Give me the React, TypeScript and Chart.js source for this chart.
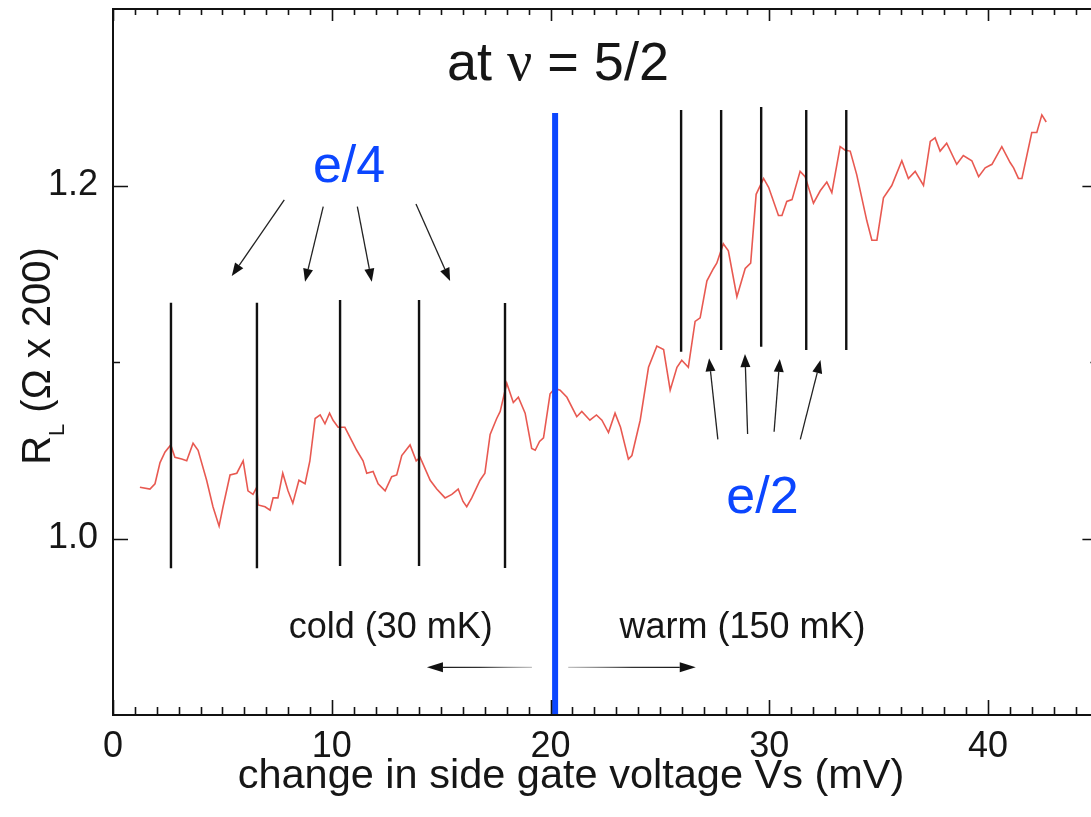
import React, { useEffect, useRef } from 'react';
import { Chart, registerables } from 'chart.js';

Chart.register(...registerables);

// ---- data ----
const voltage = [
  1.23, 1.69, 1.92, 2.15, 2.38, 2.64, 2.83, 3.14, 3.37, 3.66, 3.89, 4.28, 4.57, 4.85, 5.03, 5.35, 5.66, 5.95,
  6.17, 6.4, 6.57, 6.63, 6.95, 7.18, 7.32, 7.54, 7.76, 8.0, 8.22, 8.5, 8.78, 9.0, 9.24, 9.47, 9.69, 9.9, 10.06,
  10.29, 10.6, 11.14, 11.43, 11.6, 11.89, 12.12, 12.44, 12.74, 12.97, 13.2, 13.58, 13.86, 14.04, 14.5, 14.8,
  15.18, 15.49, 15.78, 16.0, 16.17, 16.4, 16.78, 17.0, 17.24, 17.54, 17.7, 18.0, 18.3, 18.53, 18.84, 19.14,
  19.3, 19.5, 19.68, 19.98, 20.2, 20.44, 20.75, 21.2, 21.43, 21.8, 22.1, 22.35, 22.65, 22.95, 23.2, 23.56,
  23.72, 24.1, 24.48, 24.86, 25.17, 25.47, 25.78, 26.0, 26.3, 26.61, 26.84, 27.15, 27.45, 27.6, 27.9, 28.13,
  28.52, 28.9, 29.15, 29.4, 29.74, 29.97, 30.42, 30.58, 30.8, 31.04, 31.41, 31.64, 32.02, 32.33, 32.63, 32.86,
  33.24, 33.47, 33.7, 34.0, 34.46, 34.69, 34.92, 35.22, 35.6, 36.06, 36.36, 36.67, 37.05, 37.36, 37.58, 37.81,
  38.11, 38.57, 38.87, 39.26, 39.57, 39.87, 40.18, 40.63, 41.01, 41.17, 41.39, 41.55, 42.0, 42.23, 42.46, 42.66,
];
const resistance = [
  1.029, 1.028, 1.031, 1.043, 1.049, 1.053, 1.046, 1.045, 1.044, 1.054, 1.05, 1.033, 1.018, 1.007, 1.018, 1.036,
  1.037, 1.044, 1.027, 1.025, 1.029, 1.019, 1.018, 1.016, 1.023, 1.023, 1.037, 1.027, 1.02, 1.033, 1.031, 1.044,
  1.068, 1.07, 1.065, 1.071, 1.067, 1.063, 1.063, 1.05, 1.044, 1.037, 1.038, 1.031, 1.027, 1.035, 1.036, 1.047,
  1.053, 1.044, 1.046, 1.033, 1.028, 1.023, 1.025, 1.028, 1.021, 1.018, 1.023, 1.033, 1.037, 1.059, 1.068, 1.072,
  1.088, 1.077, 1.08, 1.071, 1.051, 1.05, 1.055, 1.057, 1.082, 1.085, 1.084, 1.08, 1.069, 1.072, 1.067, 1.07,
  1.067, 1.06, 1.071, 1.063, 1.045, 1.047, 1.067, 1.097, 1.109, 1.107, 1.084, 1.097, 1.101, 1.097, 1.123, 1.125,
  1.146, 1.153, 1.156, 1.167, 1.163, 1.137, 1.153, 1.156, 1.195, 1.204, 1.199, 1.183, 1.183, 1.191, 1.192, 1.208,
  1.205, 1.19, 1.197, 1.202, 1.196, 1.222, 1.22, 1.2195, 1.206, 1.18, 1.169, 1.169, 1.193, 1.2, 1.214, 1.204,
  1.208, 1.2, 1.225, 1.227, 1.2195, 1.224, 1.212, 1.217, 1.214, 1.205, 1.21, 1.212, 1.222, 1.213, 1.21, 1.204,
  1.204, 1.23, 1.23, 1.24, 1.236,
];

// e/4 marker lines (cold side)
const e4LineX = [2.65, 6.58, 10.38, 13.99, 17.92];
const e4LineTop = [1.1336, 1.1336, 1.1351, 1.1351, 1.1334];
const e4LineBottom = [0.9831, 0.9831, 0.9844, 0.9844, 0.9833];
// e/2 marker lines (warm side)
const e2LineX = [25.97, 27.8, 29.63, 31.69, 33.52];
const e2LineTop = [1.2428, 1.2428, 1.2445, 1.2428, 1.2428];
const e2LineBottom = [1.1058, 1.1068, 1.1087, 1.1068, 1.1068];
// blue divider
const dividerX = 20.21;
const dividerRange = [0.9, 1.2411];

// axis ticks
const xTicks = [0, 10, 20, 30, 40];
const yTicks = [1.0, 1.2];
const yMinorTicks = [1.1];
const xRange = [0, 45];
const yRange = [0.9, 1.3];

// annotation arrows: [tailX, tailY, tipX, tipY]
const e4Arrows = [
  [7.83, 1.1918, 5.43, 1.1487],
  [9.61, 1.188, 8.78, 1.1455],
  [11.17, 1.188, 11.83, 1.1455],
  [13.85, 1.1895, 15.41, 1.1459],
];
const e2Arrows = [
  [27.65, 1.0562, 27.25, 1.1021],
  [29.01, 1.0592, 28.89, 1.1045],
  [30.22, 1.0605, 30.48, 1.1017],
  [31.42, 1.0562, 32.34, 1.1011],
];
const coldArrow = [19.15, 0.927, 14.35, 0.927];
const warmArrow = [20.81, 0.927, 26.64, 0.927];

// annotation labels: [x, y(baseline)]
const e4LabelPos = [10.79, 1.2022];
const e2LabelPos = [29.69, 1.0146];
const coldLabelPos = [12.7, 0.9436];
const warmLabelPos = [28.78, 0.9436];
const titlePos = [20.34, 1.2598];

const SANS = '"Liberation Sans", Arial, Helvetica, sans-serif';
const SERIF = '"Liberation Serif", "Times New Roman", serif';
const BLUE = '#0b46ff';
const TEXT = '#161616';

function drawArrow(ctx: CanvasRenderingContext2D, x1: number, y1: number, x2: number, y2: number, head: number, half: number, stroke: any, fill: string, lw: number) {
  const ang = Math.atan2(y2 - y1, x2 - x1);
  const bx = x2 - head * Math.cos(ang);
  const by = y2 - head * Math.sin(ang);
  ctx.strokeStyle = stroke;
  ctx.lineWidth = lw;
  ctx.beginPath();
  ctx.moveTo(x1, y1);
  ctx.lineTo(bx, by);
  ctx.stroke();
  ctx.fillStyle = fill;
  ctx.beginPath();
  ctx.moveTo(x2, y2);
  ctx.lineTo(bx + half * Math.sin(ang), by - half * Math.cos(ang));
  ctx.lineTo(bx - half * Math.sin(ang), by + half * Math.cos(ang));
  ctx.closePath();
  ctx.fill();
}

const overlay = {
  id: 'overlay',
  afterDraw(chart: any) {
    const { ctx, chartArea: a, scales } = chart;
    const xs = scales.x;
    const ys = scales.y;
    const px = (v: number) => xs.getPixelForValue(v);
    const py = (v: number) => ys.getPixelForValue(v);
    ctx.save();

    // frame
    ctx.strokeStyle = '#111';
    ctx.lineWidth = 2;
    ctx.beginPath();
    ctx.moveTo(a.left, a.bottom);
    ctx.lineTo(a.left, a.top);
    ctx.lineTo(a.right, a.top);
    ctx.lineTo(a.right, a.bottom);
    ctx.closePath();
    ctx.stroke();

    // x ticks (inward, top and bottom)
    ctx.lineWidth = 1.6;
    ctx.beginPath();
    for (let v = xRange[0]; v <= xRange[1]; v += 1) {
      const X = Math.round(px(v)) + 0.5;
      const major = v % 10 === 0;
      ctx.moveTo(X, a.bottom);
      ctx.lineTo(X, a.bottom - (major ? 15 : 8));
      ctx.moveTo(X, a.top);
      ctx.lineTo(X, a.top + (major ? 12 : 6));
    }
    // y ticks (inward, left and right)
    for (const v of yTicks) {
      const Y = Math.round(py(v)) + 0.5;
      ctx.moveTo(a.left, Y);
      ctx.lineTo(a.left + 15, Y);
      ctx.moveTo(a.right, Y);
      ctx.lineTo(a.right - 15, Y);
    }
    for (const v of yMinorTicks) {
      const Y = Math.round(py(v)) + 0.5;
      ctx.moveTo(a.left, Y);
      ctx.lineTo(a.left + 7, Y);
      ctx.moveTo(a.right, Y);
      ctx.lineTo(a.right - 7, Y);
    }
    ctx.stroke();

    // arrows
    for (const [x1, y1, x2, y2] of [...e4Arrows, ...e2Arrows]) {
      drawArrow(ctx, px(x1), py(y1), px(x2), py(y2), 13, 5, '#222', '#111', 1.3);
    }
    for (const arr of [coldArrow, warmArrow]) {
      const [x1, y1, x2, y2] = arr;
      const g = ctx.createLinearGradient(px(x1), 0, px(x2), 0);
      g.addColorStop(0, 'rgba(150,150,150,0.6)');
      g.addColorStop(0.5, '#333');
      g.addColorStop(1, '#111');
      drawArrow(ctx, px(x1), py(y1), px(x2), py(y2), 16, 5, g, '#111', 1.4);
    }

    // labels
    ctx.textBaseline = 'alphabetic';
    ctx.textAlign = 'center';
    ctx.fillStyle = BLUE;
    ctx.font = `52px ${SANS}`;
    ctx.fillText('e/4', px(e4LabelPos[0]), py(e4LabelPos[1]));
    ctx.fillText('e/2', px(e2LabelPos[0]), py(e2LabelPos[1]));

    ctx.fillStyle = TEXT;
    ctx.font = `36px ${SANS}`;
    ctx.fillText('cold (30 mK)', px(coldLabelPos[0]), py(coldLabelPos[1]));
    ctx.fillText('warm (150 mK)', px(warmLabelPos[0]), py(warmLabelPos[1]));

    // title "at ν = 5/2"
    const segs: [string, string][] = [
      ['at ', `54px ${SANS}`],
      ['\u03bd', `56px ${SERIF}`],
      [' = 5/2', `54px ${SANS}`],
    ];
    let total = 0;
    for (const [t, f] of segs) {
      ctx.font = f;
      total += ctx.measureText(t).width;
    }
    ctx.textAlign = 'left';
    let cx = px(titlePos[0]) - total / 2;
    const by = py(titlePos[1]);
    for (const [t, f] of segs) {
      ctx.font = f;
      ctx.fillText(t, cx, by);
      cx += ctx.measureText(t).width;
    }

    // x axis title
    ctx.textAlign = 'center';
    ctx.font = `41.5px ${SANS}`;
    ctx.fillText('change in side gate voltage Vs (mV)', 571, 788);

    // y axis title with subscript
    ctx.save();
    ctx.translate(50, 356);
    ctx.rotate(-Math.PI / 2);
    ctx.textAlign = 'left';
    const big = `40px ${SANS}`;
    const small = `22px ${SANS}`;
    ctx.font = big;
    const wR = ctx.measureText('R').width;
    const wRest = ctx.measureText(' (\u03a9 x 200)').width;
    ctx.font = small;
    const wL = ctx.measureText('L').width;
    let sx = -(wR + wL + wRest) / 2;
    ctx.font = big;
    ctx.fillText('R', sx, 0);
    sx += wR;
    ctx.font = small;
    ctx.fillText('L', sx, 14);
    sx += wL;
    ctx.font = big;
    ctx.fillText(' (\u03a9 x 200)', sx, 0);
    ctx.restore();

    ctx.restore();
  },
};

export default function App() {
  const ref = useRef<HTMLCanvasElement | null>(null);

  useEffect(() => {
    if (!ref.current) return;
    const curve = voltage.map((v, i) => ({ x: v, y: resistance[i] }));
    const markerSets: any[] = [];
    e4LineX.forEach((xv, i) => {
      markerSets.push({
        data: [{ x: xv, y: e4LineBottom[i] }, { x: xv, y: e4LineTop[i] }],
        borderColor: '#111',
        borderWidth: 2.4,
        pointRadius: 0,
        order: 2,
      });
    });
    e2LineX.forEach((xv, i) => {
      markerSets.push({
        data: [{ x: xv, y: e2LineBottom[i] }, { x: xv, y: e2LineTop[i] }],
        borderColor: '#111',
        borderWidth: 2.4,
        pointRadius: 0,
        order: 2,
      });
    });

    const zeroPad = (s: any) => {
      s.paddingTop = 0;
      s.paddingBottom = 0;
      s.paddingLeft = 0;
      s.paddingRight = 0;
    };

    const chart = new Chart(ref.current, {
      type: 'line',
      data: {
        datasets: [
          {
            data: [{ x: dividerX, y: dividerRange[0] }, { x: dividerX, y: dividerRange[1] }],
            borderColor: BLUE,
            borderWidth: 6,
            pointRadius: 0,
            order: 1,
          },
          ...markerSets,
          {
            data: curve,
            borderColor: 'rgba(228,60,50,0.85)',
            borderWidth: 1.6,
            pointRadius: 0,
            tension: 0,
            order: 3,
          },
        ],
      },
      options: {
        responsive: false,
        devicePixelRatio: 1,
        animation: false,
        events: [],
        layout: { padding: { left: 0, top: 9, right: 12.6, bottom: 0 } },
        plugins: { legend: { display: false }, tooltip: { enabled: false }, title: { display: false } },
        scales: {
          x: {
            type: 'linear',
            min: xRange[0],
            max: xRange[1],
            grid: { display: false, drawTicks: false },
            border: { display: false },
            afterBuildTicks: (s: any) => {
              s.ticks = xTicks.map((v) => ({ value: v }));
            },
            afterFit: (s: any) => {
              s.height = 102;
              zeroPad(s);
            },
            ticks: {
              autoSkip: false,
              maxRotation: 0,
              padding: 10,
              color: TEXT,
              font: { family: SANS, size: 36 },
              callback: (v: any) => String(v),
            },
          },
          y: {
            type: 'linear',
            min: yRange[0],
            max: yRange[1],
            grid: { display: false, drawTicks: false },
            border: { display: false },
            afterBuildTicks: (s: any) => {
              s.ticks = yTicks.map((v) => ({ value: v }));
            },
            afterFit: (s: any) => {
              s.width = 113;
              zeroPad(s);
            },
            ticks: {
              autoSkip: false,
              padding: 15,
              color: TEXT,
              font: { family: SANS, size: 36 },
              callback: (v: any) => Number(v).toFixed(1),
            },
          },
        },
      },
      plugins: [overlay],
    });
    return () => chart.destroy();
  }, []);

  return (
    <div style={{ position: 'fixed', left: 0, top: 0, width: 1091, height: 817, overflow: 'hidden', background: '#fff' }}>
      <canvas ref={ref} width={1110} height={817} style={{ display: 'block', width: 1110, height: 817 }} />
    </div>
  );
}
